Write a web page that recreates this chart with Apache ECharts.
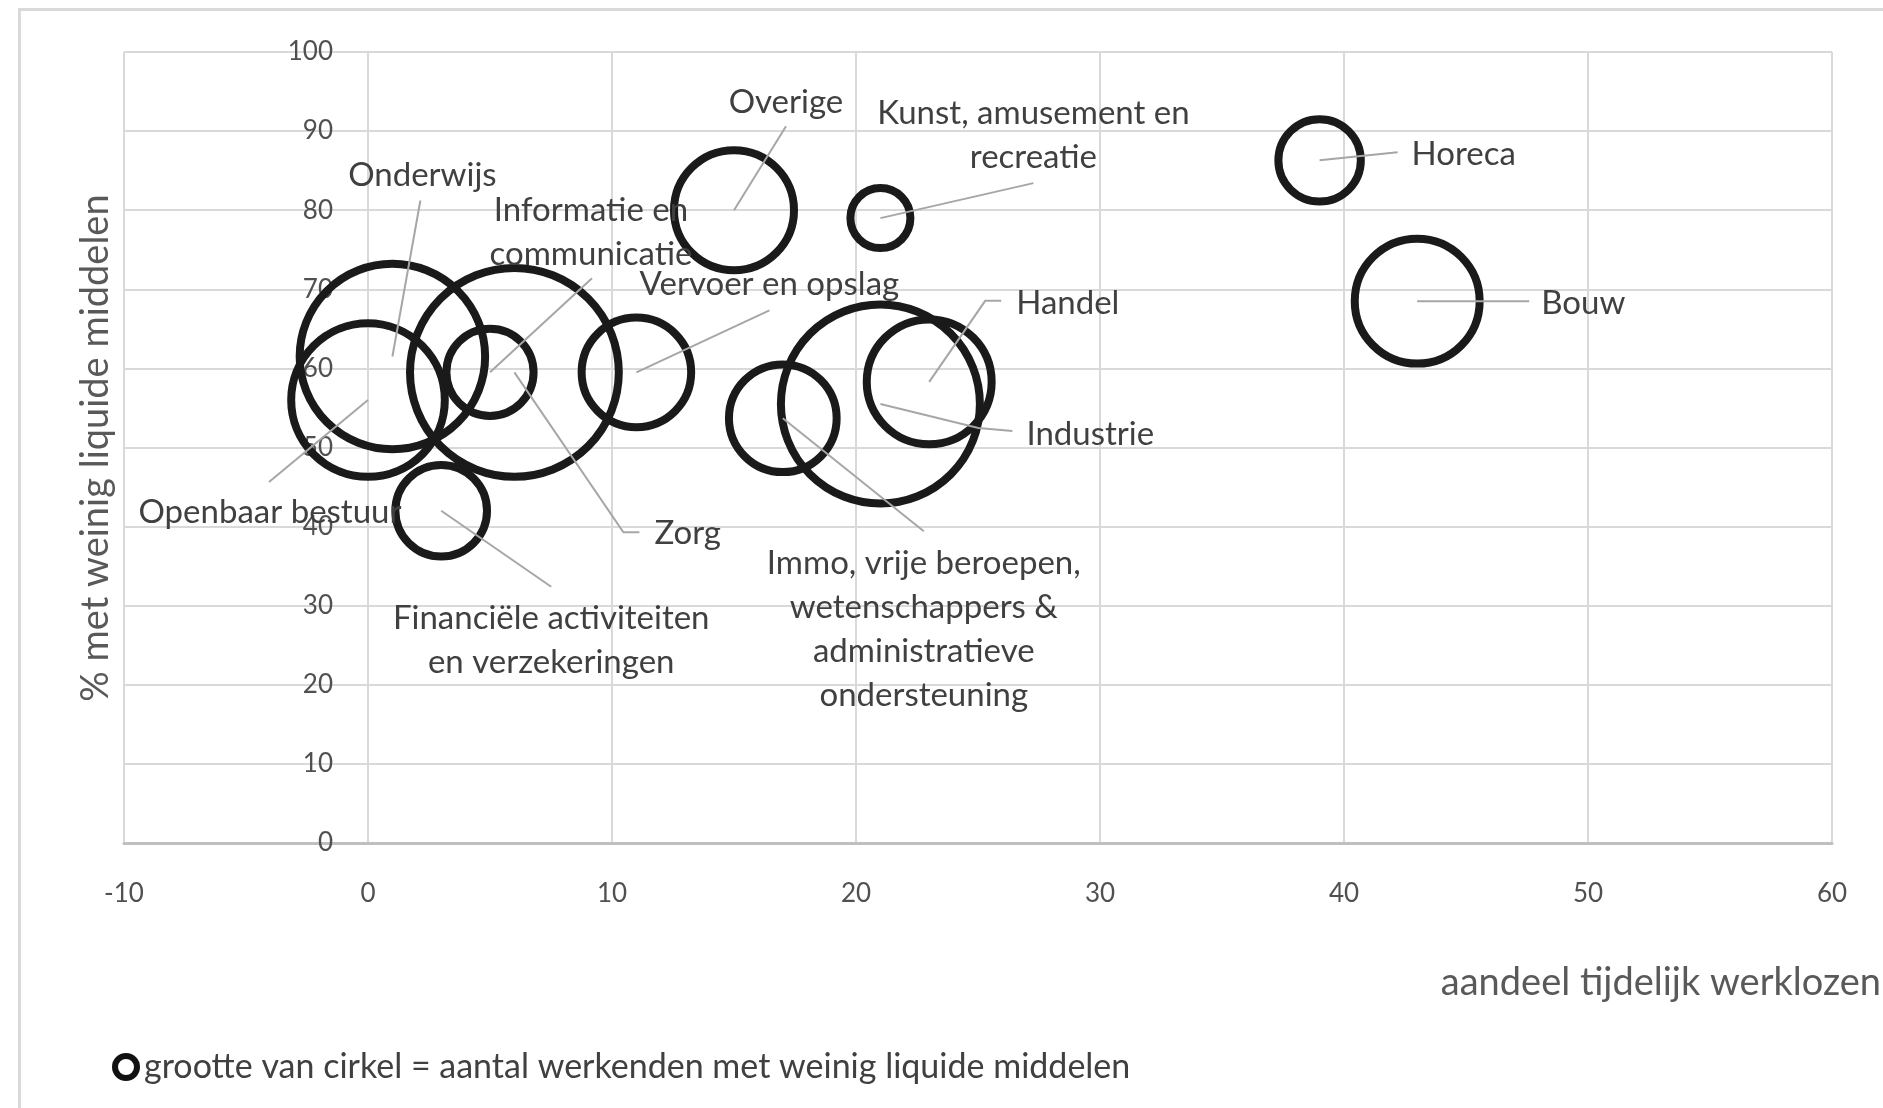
<!DOCTYPE html>
<html>
<head>
<meta charset="utf-8">
<script src="https://cdn.jsdelivr.net/npm/echarts@6/dist/echarts.min.js"></script>
<style>
html,body{margin:0;padding:0;background:#fff;}
#chart{width:1883px;height:1108px;}
</style>
</head>
<body>
<div id="chart"></div>
<script>
// ---- data ----
const sectors = [
  'Onderwijs',
  'Openbaar bestuur',
  'Informatie en\ncommunicatie',
  'Zorg',
  'Financiële activiteiten\nen verzekeringen',
  'Vervoer en opslag',
  'Overige',
  'Kunst, amusement en\nrecreatie',
  'Immo, vrije beroepen,\nwetenschappers &\nadministratieve\nondersteuning',
  'Industrie',
  'Handel',
  'Horeca',
  'Bouw'
];
const aandeelTijdelijkWerklozen = [1, 0, 5, 6, 3, 11, 15, 21, 17, 21, 23, 39, 43];
const pctWeinigLiquide = [61.5, 56, 59.5, 59.5, 42, 59.5, 80, 79, 53.7, 55.5, 58.3, 86.3, 68.5];
const aantalWerkenden = [86, 59, 19, 109, 21, 30, 36, 9, 29, 99, 39, 17, 39];
const xTicks = { min: -10, max: 60, step: 10 };
const yTicks = { min: 0, max: 100, step: 10 };
const legendText = 'grootte van cirkel = aantal werkenden met weinig liquide middelen';
const xTitle = 'aandeel tijdelijk werklozen';
const yTitle = '% met weinig liquide middelen';

// ---- label layout (pixel offsets from bubble centre) ----
const labelLayout = [
  { line: [[28, -156]], text: [30, -181], align: 'center' },            // Onderwijs
  { line: [[-99, 82]], text: [-98, 112], align: 'center' },             // Openbaar bestuur
  { line: [[102, -94]], text: [101, -140], align: 'center' },           // Informatie
  { line: [[109, 160], [125, 160]], text: [140, 161], align: 'left' },  // Zorg
  { line: [[110, 76]], text: [110, 130], align: 'center' },             // Financiële
  { line: [[133, -62]], text: [133, -88], align: 'center' },            // Vervoer
  { line: [[52, -84]], text: [52, -108], align: 'center' },             // Overige
  { line: [[153, -35]], text: [153, -83], align: 'center' },            // Kunst
  { line: [[141, 113]], text: [141, 211], align: 'center' },            // Immo
  { line: [[98, 24], [132, 27]], text: [146, 30], align: 'left' },      // Industrie
  { line: [[56, -81], [72, -81]], text: [87, -78], align: 'left' },     // Handel
  { line: [[78, -8]], text: [92, -6], align: 'left' },                  // Horeca
  { line: [[112, 0]], text: [124, 2], align: 'left' }                   // Bouw
];

const FONT = 'Lato, "Open Sans", sans-serif';
const chart = echarts.init(document.getElementById('chart'));

const bubbleData = sectors.map((s, i) => ({
  name: s,
  value: [aandeelTijdelijkWerklozen[i], pctWeinigLiquide[i], aantalWerkenden[i]]
}));
const labelData = sectors.map((s, i) => [aandeelTijdelijkWerklozen[i], pctWeinigLiquide[i]]);

chart.setOption({
  animation: false,
  backgroundColor: '#fff',
  grid: { left: 124, right: 51, top: 52, bottom: 265, containLabel: false },
  legend: {
    data: [legendText],
    left: 112,
    top: 1050,
    padding: 0,
    itemWidth: 22,
    itemHeight: 22,
    itemGap: 6,
    icon: 'circle',
    itemStyle: { color: '#fff', borderColor: '#111', borderWidth: 6 },
    textStyle: { fontFamily: FONT, fontSize: 34, color: '#404040', padding: [0, 0, 0, 2] }
  },
  xAxis: {
    type: 'value',
    min: xTicks.min, max: xTicks.max, interval: xTicks.step,
    axisLine: { onZero: false, lineStyle: { color: '#bfbfbf', width: 3 } },
    axisTick: { show: false },
    splitLine: { lineStyle: { color: '#d9d9d9', width: 2 } },
    axisLabel: { margin: 38, fontFamily: FONT, fontSize: 26, color: '#505050' }
  },
  yAxis: {
    type: 'value',
    min: yTicks.min, max: yTicks.max, interval: yTicks.step,
    offset: -244,
    axisLine: { show: false },
    axisTick: { show: false },
    splitLine: { lineStyle: { color: '#d9d9d9', width: 2 } },
    axisLabel: { margin: 35, fontFamily: FONT, fontSize: 26, color: '#505050' }
  },
  graphic: [
    { type: 'rect', left: 17, top: 7, shape: { width: 1950, height: 1200 }, style: { fill: null, stroke: '#d9d9d9', lineWidth: 3 }, z: -10, silent: true },
    { type: 'text', x: 1881, y: 983, style: { text: xTitle, textAlign: 'right', textVerticalAlign: 'middle', font: '38px ' + FONT, fill: '#595959' } },
    { type: 'text', x: 96, y: 448, rotation: Math.PI / 2, style: { text: yTitle, textAlign: 'center', textVerticalAlign: 'middle', font: '38px ' + FONT, fill: '#595959' } }
  ],
  series: [
    {
      name: legendText,
      type: 'scatter',
      data: bubbleData,
      symbol: 'circle',
      symbolSize: v => 20 * Math.sqrt(v[2]),
      itemStyle: { color: 'rgba(0,0,0,0)', borderColor: '#1a1a1a', borderWidth: 8, opacity: 1 },
      emphasis: { disabled: true },
      z: 2
    },
    {
      name: 'labels',
      type: 'custom',
      data: labelData,
      silent: true,
      clip: false,
      z: 3,
      renderItem: function (params, api) {
        const i = params.dataIndex;
        const c = api.coord([api.value(0), api.value(1)]);
        const L = labelLayout[i];
        const pts = [c].concat(L.line.map(p => [c[0] + p[0], c[1] + p[1]]));
        return {
          type: 'group',
          children: [
            { type: 'polyline', shape: { points: pts }, style: { stroke: '#a6a6a6', lineWidth: 2, fill: null } },
            { type: 'text', x: c[0] + L.text[0], y: c[1] + L.text[1],
              style: { text: sectors[i], textAlign: L.align, textVerticalAlign: 'middle',
                       font: '33px ' + FONT, fill: '#404040', lineHeight: 44 } }
          ]
        };
      }
    }
  ]
});
</script>
</body>
</html>
